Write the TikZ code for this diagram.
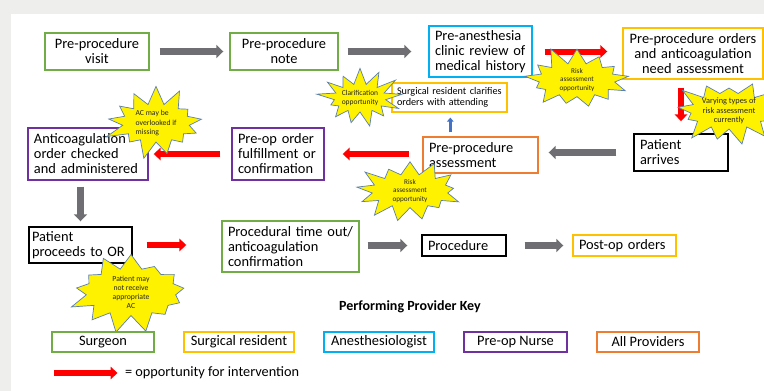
\documentclass[tikz,border=0pt]{standalone}
\usepackage{fontspec}
\setmainfont{Carlito}
\usetikzlibrary{shapes.symbols, arrows.meta, calc}

\definecolor{cgreen}{HTML}{70AD47}
\definecolor{cgold}{HTML}{FFC000}
\definecolor{cblue}{HTML}{00B0F0}
\definecolor{cpurple}{HTML}{7030A0}
\definecolor{corange}{HTML}{ED7D31}
\definecolor{arrgray}{HTML}{6F6F73}
\definecolor{arrred}{HTML}{FF0000}
\definecolor{arrblue}{HTML}{4472C4}
\definecolor{burstline}{HTML}{5B7FB0}
\definecolor{pagegray}{HTML}{EEEEEC}

\begin{document}
\begin{tikzpicture}[x=1pt, y=-1pt,
  box/.style={draw, line width=1.4pt, inner xsep=6pt, inner ysep=1pt,
    fill=white, font=\fontsize{14.4}{15}\selectfont},
  keybox/.style={box, minimum height=20pt, inner ysep=0pt, align=center},
  garrow/.style={draw=arrgray, line width=7pt, -{Triangle[width=13pt,length=7pt]}},
  rarrow/.style={draw=arrred, line width=6pt, -{Triangle[width=12.5pt,length=7pt]}},
  barrow/.style={draw=arrblue, line width=3.5pt, -{Triangle[width=6.5pt,length=4pt]}},
  burst/.style={starburst, starburst points=13, starburst point height=19pt,
    random starburst=#1, fill=yellow, draw=burstline, line width=0.7pt,
    align=center, inner sep=0pt, text=black!85}
]
% page background
\fill[pagegray] (0,0) rectangle (764,391);
\fill[white] (11,14) rectangle (764,391);
\useasboundingbox (0,0) rectangle (764,391);

% process steps
\node[box, draw=cgreen, minimum width=104pt, minimum height=37pt, text width=92pt, align=center]
  (visit) at (97,51.5) {Pre-procedure\\visit};
\node[box, draw=cgreen, minimum width=108pt, minimum height=37pt, text width=96pt, align=center]
  (note) at (284,51.5) {Pre-procedure\\note};
\node[box, draw=cblue, minimum width=103pt, minimum height=51pt, text width=91pt, align=left]
  (anes) at (480.5,51.5) {Pre-anesthesia\\clinic review of\\medical history};
\node[box, draw=cgold, minimum width=140pt, minimum height=51pt, text width=128pt, align=center]
  (orders) at (693,53.5) {Pre-procedure orders\\and anticoagulation\\need assessment};
\node[box, draw=black, minimum width=94pt, minimum height=37pt, text width=82pt, align=left]
  (arrives) at (681,152.5) {Patient\\arrives};
\node[box, draw=corange, minimum width=115pt, minimum height=36pt, text width=103pt, align=left]
  (assess) at (480.5,155) {Pre-procedure\\assessment};
\node[box, draw=cgold, line width=1.2pt, minimum width=115pt, minimum height=29pt, text width=105pt,
  inner xsep=5pt, align=left, font=\fontsize{10.2}{11.5}\selectfont]
  (clar) at (449.5,97.5) {Surgical resident clarifies\\orders with attending};
\node[box, draw=cpurple, minimum width=92pt, minimum height=52pt, text width=80pt, align=left]
  (preop) at (278,154) {Pre-op order\\fulfillment or\\confirmation};
\node[box, draw=cpurple, minimum width=120pt, minimum height=52pt, text width=108pt, align=left]
  (anticoag) at (88,154) {Anticoagulation\\order checked\\and administered};
\node[box, draw=black, minimum width=103pt, minimum height=36pt, text width=97pt, inner xsep=3pt, align=left]
  (toor) at (80.5,245) {Patient\\proceeds to OR};
\node[box, draw=cgreen, minimum width=137pt, minimum height=51pt, text width=125pt, align=left]
  (timeout) at (290.5,246.5) {Procedural time out/\\anticoagulation\\confirmation};
\node[box, draw=black, minimum width=84pt, minimum height=21pt, text width=72pt, inner ysep=0pt, align=left]
  (proc) at (464,245.5) {Procedure};
\node[box, draw=cgold, minimum width=103pt, minimum height=21pt, text width=91pt, inner ysep=0pt, align=left]
  (postop) at (624.5,245.5) {Post-op orders};

% flow arrows
\draw[garrow, shorten <=10pt, shorten >=6pt] (visit.east) -- (note.west);
\draw[garrow, shorten <=9pt, shorten >=17pt] (note.east) -- (anes.west);
\draw[rarrow, shorten <=12pt, shorten >=15pt] (anes.east) -- (anes.east -| orders.west);
\draw[rarrow, shorten <=8pt, shorten >=12pt] (orders.south -| arrives.north) -- (arrives.north);
\draw[garrow, shorten <=17pt, shorten >=10pt] (arrives.west) -- (arrives.west -| assess.east);
\coordinate (clarup) at ($(assess.north west)+(28,0)$);
\draw[barrow, shorten <=4pt, shorten >=5pt] (clarup) -- (clarup |- clar.south);
\draw[rarrow, shorten <=13pt, shorten >=18pt] (preop.east -| assess.west) -- (preop.east);
\draw[rarrow, shorten <=11pt, shorten >=5pt] (preop.west) -- (anticoag.east);
\draw[garrow, shorten <=6pt, shorten >=5pt] (anticoag.south -| toor.north) -- (toor.north);
\draw[rarrow, shorten <=14pt, shorten >=35pt] (toor.east) -- (toor.east -| timeout.west);
\draw[garrow, shorten <=8pt, shorten >=14pt] (proc.west -| timeout.east) -- (proc.west);
\draw[garrow, shorten <=18pt, shorten >=9pt] (proc.east) -- (postop.west);

% risk call-outs
\node[burst=11, minimum width=114pt, minimum height=68pt, font=\fontsize{7.2}{8.7}\selectfont]
  (riskA) at (577,80) {Risk\\assessment\\opportunity};
\node[burst=23, minimum width=108pt, minimum height=66pt, font=\fontsize{8.3}{9.2}\selectfont]
  (vary) at (729,111) {Varying types of\\risk assessment\\currently};
\node[burst=37, minimum width=80pt, minimum height=66pt, font=\fontsize{7.5}{9}\selectfont]
  (clarif) at (360,98) {Clarification\\opportunity};
\node[burst=41, minimum width=114pt, minimum height=68pt, font=\fontsize{7.2}{8.7}\selectfont]
  (riskB) at (410,191) {Risk\\assessment\\opportunity};
\node[burst=53, minimum width=105pt, minimum height=76pt, align=left, font=\fontsize{7.7}{9.5}\selectfont]
  (acmiss) at (156,123) {AC may be\\overlooked if\\missing};
\node[burst=67, minimum width=128pt, minimum height=85pt, font=\fontsize{7.7}{9}\selectfont]
  (ptmay) at (131,292) {Patient may\\not receive\\appropriate\\AC};

% provider key
\node[font=\bfseries\fontsize{14}{15}\selectfont] (keytitle) at (410,307) {Performing Provider Key};
\node[keybox, draw=cgreen, minimum width=102pt] (ksurg) at (103,342) {Surgeon};
\node[keybox, draw=cgold, minimum width=110pt] (kres) at (239,342) {Surgical resident};
\node[keybox, draw=cblue, minimum width=110pt] (kanes) at (379,342) {Anesthesiologist};
\node[keybox, draw=cpurple, minimum width=103pt] (knurse) at (515.5,342) {Pre-op Nurse};
\node[keybox, draw=corange, minimum width=102pt] (kall) at (648,342) {All Providers};

% legend
\coordinate (legstart) at (54,373);
\node[anchor=west, font=\fontsize{14.3}{15}\selectfont] (legend) at (121.5,373) {= opportunity for intervention};
\draw[rarrow, shorten >=4pt] (legstart) -- (legend.west);
\end{tikzpicture}
\end{document}
